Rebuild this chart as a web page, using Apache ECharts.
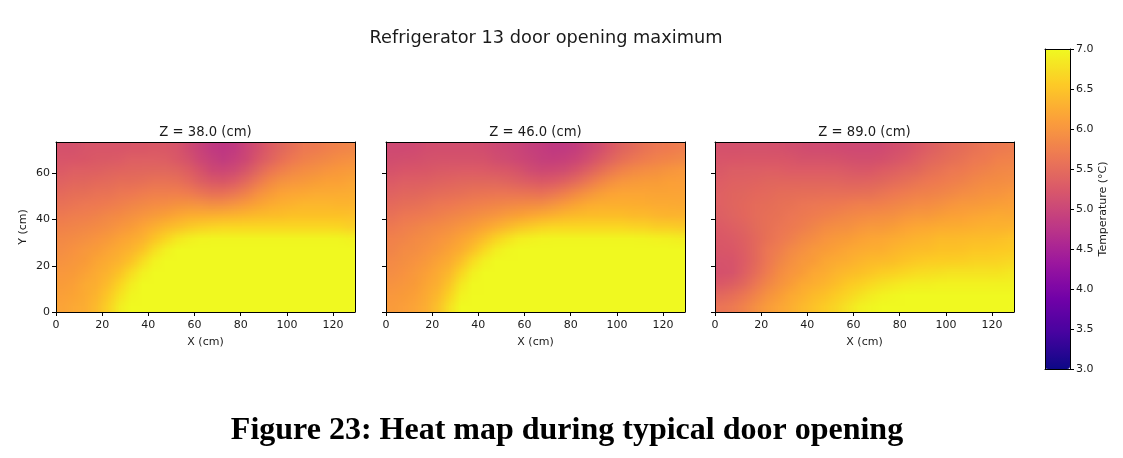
<!DOCTYPE html>
<html><head><meta charset="utf-8">
<style>html,body{margin:0;padding:0;background:#fff}
#wrap{position:relative;width:1123px;height:458px;overflow:hidden}
#c{position:absolute;left:0;top:0;width:1123px;height:458px;z-index:2}
.field{position:absolute;top:142px;width:26px;height:15px;transform-origin:0 0;transform:scale(11.5,11.3333);z-index:1}
</style>
<script src="https://cdn.jsdelivr.net/npm/echarts@6/dist/echarts.min.js"></script>
</head><body><div id="wrap"><div class="field" id="f0" style="left:56px"></div><div class="field" id="f1" style="left:386px"></div><div class="field" id="f2" style="left:715px"></div><div id="c"></div></div>
<script>
const figureCaption = 'Figure 23: Heat map during typical door opening';
const mainTitle = 'Refrigerator 13 door opening maximum';
const panelTitles = ['Z = 38.0 (cm)', 'Z = 46.0 (cm)', 'Z = 89.0 (cm)'];
const xCells = [2.5,7.5,12.5,17.5,22.5,27.5,32.5,37.5,42.5,47.5,52.5,57.5,62.5,67.5,72.5,77.5,82.5,87.5,92.5,97.5,102.5,107.5,112.5,117.5,122.5,127.5];
const yCells = [2.5,7.4,12.3,17.2,22.1,27,31.9,36.8,41.7,46.6,51.5,56.4,61.3,66.2,71.1];
const xTicks = [0,20,40,60,80,100,120];
const yTicks = [0,20,40,60];
const plasma = ['#0d0887','#46039f','#7201a8','#9c179e','#bd3786','#d8576b','#ed7953','#fb9f3a','#fdca26','#f0f921'];
// temperatures, rows listed from the top of each panel (y≈71) to the bottom (y≈2.5)
const panelZ38 = [
[5.15,5.15,5.2,5.2,5.2,5.2,5.2,5.2,5.25,5.25,5.2,5.1,4.95,4.85,4.78,4.82,4.95,5.1,5.25,5.4,5.5,5.6,5.65,5.7,5.75,5.8],
[5.2,5.2,5.2,5.25,5.25,5.25,5.3,5.3,5.3,5.3,5.25,5.15,5.0,4.9,4.83,4.87,4.98,5.15,5.3,5.45,5.6,5.7,5.75,5.8,5.85,5.9],
[5.25,5.3,5.3,5.3,5.35,5.35,5.4,5.4,5.4,5.4,5.35,5.3,5.15,5.02,4.95,5.0,5.1,5.3,5.5,5.65,5.78,5.85,5.9,5.95,6.0,6.05],
[5.35,5.4,5.4,5.45,5.45,5.5,5.5,5.5,5.55,5.55,5.55,5.45,5.3,5.2,5.15,5.2,5.35,5.55,5.75,5.9,5.95,6.0,6.05,6.1,6.1,6.15],
[5.45,5.5,5.5,5.55,5.55,5.6,5.6,5.65,5.7,5.7,5.7,5.65,5.55,5.45,5.45,5.5,5.65,5.85,6.0,6.1,6.15,6.15,6.2,6.2,6.2,6.25],
[5.55,5.6,5.6,5.65,5.65,5.7,5.75,5.8,5.85,5.85,5.9,5.9,5.85,5.8,5.8,5.85,5.95,6.05,6.15,6.25,6.25,6.3,6.3,6.3,6.3,6.3],
[5.65,5.7,5.7,5.75,5.8,5.85,5.9,5.95,6.0,6.05,6.1,6.2,6.2,6.2,6.25,6.25,6.3,6.35,6.4,6.4,6.45,6.45,6.45,6.45,6.45,6.45],
[5.75,5.8,5.8,5.85,5.9,5.95,6.05,6.1,6.2,6.3,6.35,6.4,6.45,6.5,6.52,6.55,6.55,6.55,6.55,6.55,6.55,6.55,6.55,6.55,6.55,6.5],
[5.85,5.85,5.9,5.95,6.0,6.1,6.15,6.25,6.4,6.55,6.7,6.85,6.92,6.95,6.95,6.95,6.95,6.95,6.95,6.95,6.95,6.95,6.95,6.95,6.95,6.9],
[5.9,5.95,6,6.05,6.1,6.2,6.3,6.4,6.6,6.85,7,7,7,7,7,7,7,7,7,7,7,7,7,7,7,7],
[5.95,6,6.05,6.15,6.2,6.3,6.4,6.6,6.9,7,7,7,7,7,7,7,7,7,7,7,7,7,7,7,7,7],
[6,6.05,6.1,6.2,6.3,6.4,6.6,6.85,7,7,7,7,7,7,7,7,7,7,7,7,7,7,7,7,7,7],
[6.05,6.1,6.2,6.25,6.35,6.55,6.8,7,7,7,7,7,7,7,7,7,7,7,7,7,7,7,7,7,7,7],
[6.1,6.15,6.2,6.3,6.45,6.7,6.95,7,7,7,7,7,7,7,7,7,7,7,7,7,7,7,7,7,7,7],
[6.15,6.2,6.25,6.35,6.55,6.85,7,7,7,7,7,7,7,7,7,7,7,7,7,7,7,7,7,7,7,7]
];
const panelZ46 = [
[5.05,5.05,5.05,5.1,5.1,5.1,5.1,5.1,5.1,5.05,5.05,5.0,4.93,4.87,4.83,4.83,4.88,4.95,5.05,5.2,5.35,5.45,5.55,5.6,5.65,5.7],
[5.1,5.1,5.1,5.15,5.15,5.15,5.15,5.15,5.15,5.1,5.05,5.0,4.95,4.9,4.87,4.88,4.93,5.02,5.15,5.3,5.45,5.55,5.65,5.7,5.75,5.8],
[5.15,5.2,5.2,5.2,5.25,5.25,5.25,5.25,5.25,5.2,5.2,5.15,5.05,5.0,5.0,5.02,5.1,5.25,5.4,5.55,5.7,5.8,5.85,5.9,5.95,6.0],
[5.25,5.3,5.3,5.3,5.35,5.35,5.4,5.4,5.4,5.4,5.35,5.3,5.25,5.2,5.2,5.25,5.35,5.5,5.7,5.85,5.95,6.0,6.05,6.05,6.1,6.1],
[5.35,5.4,5.4,5.45,5.45,5.5,5.5,5.55,5.55,5.55,5.55,5.5,5.5,5.45,5.5,5.6,5.75,5.9,6.0,6.1,6.15,6.15,6.15,6.15,6.15,6.15],
[5.45,5.5,5.5,5.55,5.6,5.6,5.65,5.7,5.7,5.75,5.75,5.8,5.8,5.8,5.85,5.95,6.05,6.15,6.2,6.25,6.25,6.25,6.25,6.2,6.2,6.2],
[5.55,5.6,5.65,5.65,5.7,5.75,5.8,5.85,5.9,5.95,6.0,6.05,6.1,6.15,6.2,6.3,6.35,6.4,6.4,6.4,6.4,6.35,6.35,6.3,6.3,6.3],
[5.65,5.7,5.75,5.8,5.85,5.9,5.95,6.0,6.1,6.15,6.25,6.35,6.4,6.5,6.52,6.55,6.55,6.55,6.55,6.55,6.55,6.5,6.5,6.45,6.45,6.45],
[5.75,5.8,5.85,5.9,5.95,6.0,6.1,6.2,6.3,6.5,6.65,6.8,6.88,6.92,6.95,6.95,6.95,6.95,6.95,6.95,6.95,6.95,6.95,6.9,6.9,6.85],
[5.8,5.85,5.9,5.95,6.0,6.1,6.2,6.35,6.55,6.8,6.95,7,7,7,7,7,7,7,7,7,7,7,7,7,7,7],
[5.85,5.9,5.95,6,6.1,6.2,6.35,6.6,6.85,7,7,7,7,7,7,7,7,7,7,7,7,7,7,7,7,7],
[5.9,5.95,6,6.1,6.2,6.3,6.55,6.85,7,7,7,7,7,7,7,7,7,7,7,7,7,7,7,7,7,7],
[5.95,6,6.05,6.15,6.25,6.4,6.75,7,7,7,7,7,7,7,7,7,7,7,7,7,7,7,7,7,7,7],
[6,6.05,6.1,6.2,6.3,6.55,6.9,7,7,7,7,7,7,7,7,7,7,7,7,7,7,7,7,7,7,7],
[6.05,6.1,6.15,6.25,6.4,6.7,7,7,7,7,7,7,7,7,7,7,7,7,7,7,7,7,7,7,7,7]
];
const panelZ89 = [
[5.15,5.15,5.15,5.15,5.15,5.15,5.1,5.1,5.05,5.05,5.05,5.05,5.05,5.05,5.05,5.1,5.15,5.2,5.3,5.35,5.45,5.5,5.55,5.6,5.65,5.7],
[5.2,5.2,5.2,5.2,5.2,5.2,5.2,5.15,5.15,5.15,5.15,5.1,5.1,5.1,5.1,5.15,5.2,5.3,5.35,5.45,5.5,5.55,5.6,5.65,5.7,5.75],
[5.25,5.3,5.3,5.3,5.3,5.3,5.25,5.25,5.25,5.25,5.25,5.25,5.2,5.2,5.25,5.3,5.35,5.4,5.5,5.55,5.6,5.65,5.7,5.75,5.8,5.85],
[5.3,5.35,5.35,5.35,5.4,5.4,5.4,5.4,5.4,5.4,5.4,5.35,5.35,5.35,5.4,5.45,5.5,5.55,5.6,5.65,5.7,5.75,5.8,5.85,5.9,5.9],
[5.35,5.4,5.4,5.45,5.45,5.5,5.5,5.5,5.5,5.5,5.5,5.5,5.5,5.5,5.55,5.6,5.65,5.7,5.75,5.75,5.8,5.85,5.9,5.95,5.95,6.0],
[5.35,5.4,5.45,5.5,5.5,5.55,5.55,5.6,5.6,5.65,5.65,5.65,5.7,5.7,5.7,5.75,5.8,5.85,5.85,5.9,5.95,6.0,6.0,6.05,6.05,6.1],
[5.35,5.4,5.45,5.5,5.55,5.55,5.6,5.65,5.7,5.7,5.75,5.8,5.85,5.85,5.9,5.9,5.95,6.0,6.0,6.05,6.1,6.1,6.15,6.15,6.2,6.2],
[5.3,5.35,5.4,5.5,5.55,5.6,5.65,5.7,5.75,5.85,5.9,5.9,5.95,6.0,6.0,6.05,6.1,6.15,6.15,6.2,6.2,6.25,6.25,6.3,6.3,6.3],
[5.25,5.3,5.35,5.45,5.55,5.6,5.7,5.8,5.85,5.95,6.0,6.05,6.1,6.15,6.15,6.2,6.25,6.3,6.3,6.35,6.35,6.35,6.4,6.4,6.4,6.45],
[5.25,5.28,5.33,5.45,5.6,5.7,5.8,5.9,6.0,6.05,6.1,6.15,6.2,6.25,6.25,6.3,6.35,6.4,6.4,6.45,6.45,6.45,6.5,6.5,6.5,6.55],
[5.2,5.2,5.28,5.45,5.6,5.75,5.9,6.0,6.05,6.15,6.2,6.25,6.3,6.35,6.35,6.4,6.45,6.5,6.5,6.55,6.55,6.55,6.6,6.6,6.6,6.65],
[5.15,5.15,5.28,5.45,5.65,5.85,5.95,6.05,6.15,6.2,6.3,6.35,6.4,6.45,6.5,6.55,6.6,6.65,6.7,6.7,6.75,6.75,6.75,6.75,6.75,6.8],
[5.2,5.25,5.37,5.55,5.75,5.9,6.05,6.15,6.25,6.3,6.4,6.5,6.55,6.62,6.7,6.75,6.8,6.85,6.85,6.9,6.9,6.9,6.9,6.9,6.9,6.9],
[5.4,5.45,5.55,5.7,5.9,6.05,6.15,6.25,6.35,6.4,6.5,6.6,6.7,6.8,6.9,6.95,7,7,7,7,7,7,7,7,7,7],
[5.6,5.65,5.75,5.9,6.05,6.15,6.25,6.35,6.45,6.55,6.65,6.75,6.9,6.95,7,7,7,7,7,7,7,7,7,7,7,7]
];
const panels = [panelZ38, panelZ46, panelZ89];

const font = 'DejaVu Sans', ink = '#1a1a1a';
const gridLefts = [56, 386, 715];
const grids = [], xAxes = [], yAxes = [];

// each field is one heatmap with a 1px cell, which the browser enlarges smoothly onto the plot area
panels.forEach((rows, p) => {
  const data = [];
  rows.forEach((row, r) => row.forEach((v, c) => data.push([c, rows.length - 1 - r, v])));
  const field = echarts.init(document.getElementById('f' + p), null, {renderer:'canvas', devicePixelRatio:1});
  field.setOption({
    animation:false,
    grid:{left:0, right:0, top:0, bottom:0},
    xAxis:{type:'category', data:xCells, show:false},
    yAxis:{type:'category', data:yCells, show:false},
    visualMap:{show:false, type:'continuous', min:3, max:7, inRange:{color:plasma}},
    series:[{type:'heatmap', data, progressive:0, silent:true, itemStyle:{borderWidth:0}, emphasis:{disabled:true}}]
  });
});

panels.forEach((rows, p) => {
  grids.push({left: gridLefts[p], top: 142, width: 299, height: 170});
  xAxes.push({type:'category', gridIndex:p, position:'top', data:xCells, z:10,
    axisLine:{show:true,onZero:false,lineStyle:{color:'#000',width:1}}, axisTick:{show:false}, axisLabel:{show:false}, splitLine:{show:false}});
  xAxes.push({type:'value', gridIndex:p, position:'bottom', min:0, max:129.5, z:10, name:'X (cm)', nameLocation:'middle', nameGap:25,
    nameTextStyle:{fontFamily:font,fontSize:11,color:ink},
    axisLine:{show:true,onZero:false,lineStyle:{color:'#000',width:1}},
    axisTick:{show:true,length:4,customValues:xTicks,lineStyle:{color:'#000'}},
    axisLabel:{show:true,customValues:xTicks,margin:8,fontFamily:font,fontSize:11,color:ink}, splitLine:{show:false}});
  yAxes.push({type:'category', gridIndex:p, position:'right', data:yCells, z:10,
    axisLine:{show:true,onZero:false,lineStyle:{color:'#000',width:1}}, axisTick:{show:false}, axisLabel:{show:false}, splitLine:{show:false}});
  yAxes.push({type:'value', gridIndex:p, position:'left', min:0, max:73.6, z:10,
    name: p === 0 ? 'Y (cm)' : '', nameLocation:'middle', nameGap:27, nameRotate:90,
    nameTextStyle:{fontFamily:font,fontSize:11,color:ink},
    axisLine:{show:true,onZero:false,lineStyle:{color:'#000',width:1}},
    axisTick:{show:true,length:4,customValues:yTicks,lineStyle:{color:'#000'}},
    axisLabel:{show:p===0,customValues:yTicks,margin:6,padding:[2,0,0,0],fontFamily:font,fontSize:11,color:ink}, splitLine:{show:false}});
});
// colour bar frame and temperature scale
grids.push({left:1045, top:49, width:25, height:320});
xAxes.push({type:'category', gridIndex:3, position:'top', data:[''], z:10, axisLine:{show:true,onZero:false,lineStyle:{color:'#000'}}, axisTick:{show:false}, axisLabel:{show:false}});
xAxes.push({type:'category', gridIndex:3, position:'bottom', data:[''], z:10, axisLine:{show:true,onZero:false,lineStyle:{color:'#000'}}, axisTick:{show:false}, axisLabel:{show:false}});
yAxes.push({type:'value', gridIndex:3, position:'left', min:3, max:7, z:10, axisLine:{show:true,onZero:false,lineStyle:{color:'#000'}}, axisTick:{show:false}, axisLabel:{show:false}, splitLine:{show:false}});
yAxes.push({type:'value', gridIndex:3, position:'right', min:3, max:7, interval:0.5, z:10,
  name:'Temperature (°C)', nameLocation:'middle', nameGap:28, nameRotate:90,
  nameTextStyle:{fontFamily:font,fontSize:11,color:ink},
  axisLine:{show:true,onZero:false,lineStyle:{color:'#000'}}, axisTick:{show:true,length:4,lineStyle:{color:'#000'}},
  axisLabel:{margin:6,padding:[2,0,0,0],fontFamily:font,fontSize:11,color:ink,formatter:v=>v.toFixed(1)}, splitLine:{show:false}});

const centres = [205.5, 535.5, 864.5];
const titles = [
  {text:mainTitle,left:546,top:29,textAlign:'center',padding:0,textStyle:{fontFamily:font,fontSize:17.75,fontWeight:'normal',color:ink}},
  {text:figureCaption,left:567,top:415,textAlign:'center',padding:0,textStyle:{fontFamily:'Liberation Serif',fontSize:32,fontWeight:'bold',color:'#000'}}
].concat(panelTitles.map((t,i)=>({text:t,left:centres[i],top:126,textAlign:'center',padding:0,textStyle:{fontFamily:font,fontSize:13.2,fontWeight:'normal',color:ink}})));

const chart = echarts.init(document.getElementById('c'), null, {renderer:'canvas'});
chart.setOption({
  animation:false, backgroundColor:'transparent', title:titles, grid:grids, xAxis:xAxes, yAxis:yAxes, series:[],
  visualMap:{type:'continuous', min:3, max:7, inRange:{color:plasma}, calculable:false, realtime:false, hoverLink:false,
    orient:'vertical', left:1045, top:49, itemWidth:25, itemHeight:320, padding:0, text:null, textStyle:{fontSize:0}}
});
</script></body></html>
